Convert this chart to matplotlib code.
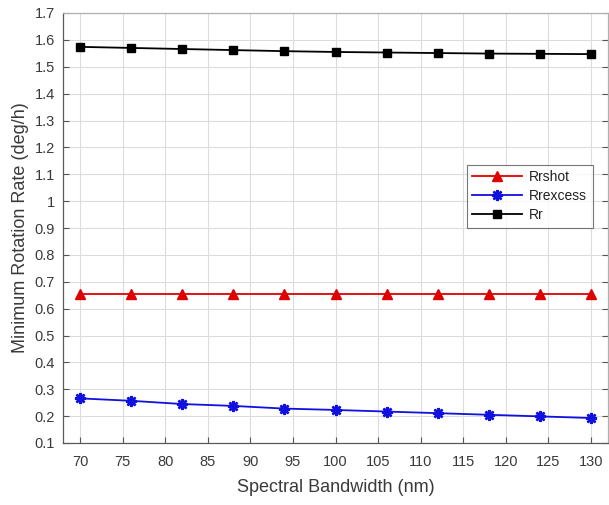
import matplotlib
matplotlib.use("Agg")
import matplotlib.pyplot as plt
from matplotlib.ticker import FormatStrFormatter

plt.rcParams['font.family'] = ['Liberation Sans', 'DejaVu Sans']

bandwidth = [70, 76, 82, 88, 94, 100, 106, 112, 118, 124, 130]
r_shot = [0.656, 0.656, 0.656, 0.656, 0.656, 0.656, 0.656, 0.656, 0.656, 0.656, 0.656]
r_excess = [0.266, 0.257, 0.245, 0.238, 0.228, 0.223, 0.217, 0.211, 0.205, 0.199, 0.193]
r_total = [1.574, 1.570, 1.566, 1.562, 1.558, 1.555, 1.553, 1.551, 1.549, 1.548, 1.547]

x_ticks = list(range(70, 131, 5))
y_ticks = [round(0.1 * i, 1) for i in range(1, 18)]

text_color = '#3a3a3a'
fig = plt.figure(figsize=(6.09, 5.05), dpi=100)
ax = fig.add_axes([63 / 609, 1 - 443 / 505, 545 / 609, 430 / 505])

asterisk = (8, 2, 0)
ax.plot(bandwidth, r_shot, color='#e00000', lw=1.3, marker='^', ms=7,
        mfc='#e00000', mec='#e00000', label='Rrshot')
ax.plot(bandwidth, r_excess, color='#1010e0', lw=1.3, marker=asterisk, ms=8,
        mew=1.8, mfc='#1010e0', mec='#1010e0', label='Rrexcess')
ax.plot(bandwidth, r_total, color='#000000', lw=1.3, marker='s', ms=5.5,
        mfc='#000000', mec='#000000', label='Rr')

ax.set_xlim(68, 132)
ax.set_ylim(0.1, 1.7)
ax.set_xticks(x_ticks)
ax.set_yticks(y_ticks)
ax.yaxis.set_major_formatter(FormatStrFormatter('%g'))
ax.grid(True, color='#dcdcdc', lw=0.8)
ax.set_axisbelow(True)
ax.tick_params(direction='in', length=4, width=0.8, colors='#555555',
               labelcolor=text_color, labelsize=10.5, top=False, right=True)
ax.tick_params(axis='x', pad=9)
ax.tick_params(axis='y', pad=6)
for s in ax.spines.values():
    s.set_color('#5a5a5a')
    s.set_linewidth(0.9)
ax.spines['top'].set_color('#b0b0b0')
ax.spines['right'].set_color('#b0b0b0')

ax.set_xlabel('Spectral Bandwidth (nm)', fontsize=13, color=text_color, labelpad=7)
ax.set_ylabel('Minimum Rotation Rate (deg/h)', fontsize=13, color=text_color, labelpad=4)

leg = ax.legend(loc='upper right', bbox_to_anchor=(0.972, 0.647), borderaxespad=0,
                fontsize=10, frameon=True, fancybox=False, handlelength=3.6,
                labelspacing=0.35, borderpad=0.4, handletextpad=0.5)
leg.get_frame().set_edgecolor('#555555')
leg.get_frame().set_linewidth(0.8)
for t in leg.get_texts():
    t.set_color('#222222')

fig.savefig('out.png', dpi=100)
